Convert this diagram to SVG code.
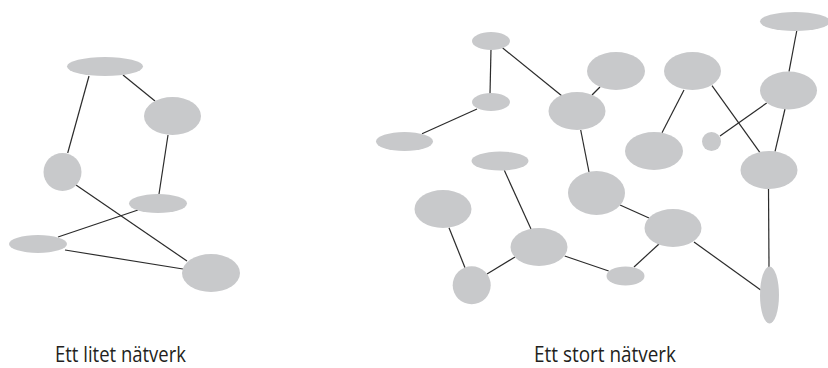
<svg xmlns="http://www.w3.org/2000/svg" width="828" height="368" viewBox="0 0 828 368">
<style>
.n{fill:#c8c9cb}
.e line{stroke:#2b2b2b;stroke-width:1.2}
.t{font-family:"Open Sans","Liberation Sans",sans-serif;font-size:22px;fill:#231f20}
</style>
<rect width="828" height="368" fill="#fff"/>
<g class="e" id="connectors">
<line x1="89" y1="76" x2="67.7" y2="153"/>
<line x1="123" y1="75" x2="155" y2="101"/>
<line x1="168" y1="135" x2="159" y2="194"/>
<line x1="76" y1="185" x2="187" y2="261"/>
<line x1="138" y1="210" x2="58" y2="237"/>
<line x1="65" y1="250" x2="183" y2="269"/>
<line x1="491" y1="49" x2="490" y2="94"/>
<line x1="502.7" y1="48" x2="561.7" y2="95.7"/>
<line x1="477" y1="109" x2="422" y2="133.7"/>
<line x1="592" y1="95" x2="600" y2="87"/>
<line x1="580.7" y1="130" x2="589" y2="172"/>
<line x1="684" y1="90" x2="662" y2="132.7"/>
<line x1="712" y1="85.7" x2="760" y2="152.7"/>
<line x1="720" y1="136" x2="766.7" y2="103"/>
<line x1="796.7" y1="31" x2="789" y2="71.7"/>
<line x1="785" y1="109" x2="775" y2="151.7"/>
<line x1="768.5" y1="189" x2="769" y2="267"/>
<line x1="504.3" y1="170.3" x2="531" y2="229"/>
<line x1="449" y1="227.7" x2="465" y2="267.7"/>
<line x1="487" y1="274" x2="515" y2="257"/>
<line x1="564.7" y1="256" x2="608.7" y2="271"/>
<line x1="634" y1="267" x2="659" y2="244"/>
<line x1="620" y1="205" x2="649" y2="218"/>
<line x1="694" y1="242" x2="760.7" y2="290"/>
</g>
<g id="small-network">
<ellipse id="s1" class="n" cx="105" cy="66.5" rx="38" ry="9.5"/>
<ellipse id="s2" class="n" cx="172.5" cy="116" rx="28.5" ry="19"/>
<ellipse id="s3" class="n" cx="62.5" cy="172" rx="19" ry="19"/>
<ellipse id="s4" class="n" cx="158" cy="203.5" rx="29" ry="9.5"/>
<ellipse id="s5" class="n" cx="38" cy="244" rx="29" ry="9"/>
<ellipse id="s6" class="n" cx="211" cy="273" rx="29" ry="19"/>
</g>
<g id="large-network">
<ellipse id="b1" class="n" cx="491" cy="41" rx="19" ry="9"/>
<ellipse id="b2" class="n" cx="491" cy="102" rx="19" ry="9"/>
<ellipse id="b3" class="n" cx="404.5" cy="141.5" rx="28.5" ry="9.5"/>
<ellipse id="b4" class="n" cx="577" cy="111" rx="28.5" ry="19"/>
<ellipse id="b5" class="n" cx="616" cy="71" rx="29" ry="19"/>
<ellipse id="b6" class="n" cx="692.5" cy="71" rx="28.5" ry="19"/>
<ellipse id="b7" class="n" cx="654" cy="151" rx="29" ry="19"/>
<ellipse id="b8" class="n" cx="711.5" cy="141.5" rx="9.5" ry="9.5"/>
<ellipse id="b9" class="n" cx="795" cy="21.5" rx="35" ry="9.5"/>
<ellipse id="b10" class="n" cx="788.5" cy="90.5" rx="28.5" ry="19"/>
<ellipse id="b11" class="n" cx="769" cy="170" rx="28.5" ry="19"/>
<ellipse id="b12" class="n" cx="500" cy="161" rx="28.5" ry="9.5"/>
<ellipse id="b13" class="n" cx="443" cy="209" rx="28.5" ry="19"/>
<ellipse id="b14" class="n" cx="596.5" cy="193" rx="28.5" ry="22"/>
<ellipse id="b15" class="n" cx="673" cy="228" rx="28.5" ry="19"/>
<ellipse id="b16" class="n" cx="539" cy="247" rx="28.5" ry="19"/>
<ellipse id="b17" class="n" cx="471.7" cy="285.3" rx="19" ry="19"/>
<ellipse id="b18" class="n" cx="625.5" cy="276" rx="19" ry="9.5"/>
<ellipse id="b19" class="n" cx="769.5" cy="295" rx="9.5" ry="28.5"/>
</g>
<text class="t" x="55" y="362" textLength="131" lengthAdjust="spacingAndGlyphs">Ett litet nätverk</text>
<text class="t" x="534" y="362" textLength="142" lengthAdjust="spacingAndGlyphs">Ett stort nätverk</text>
</svg>
